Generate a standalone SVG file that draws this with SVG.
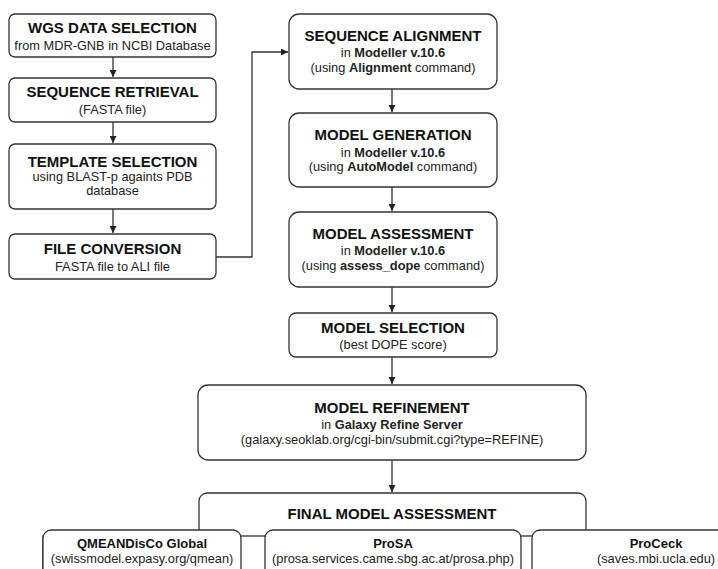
<svg xmlns="http://www.w3.org/2000/svg" width="718" height="569" viewBox="0 0 718 569">
<defs>
<marker id="ah" viewBox="0 0 10 10" refX="10" refY="5" markerWidth="7" markerHeight="7" markerUnits="userSpaceOnUse" orient="auto">
<path d="M0,0 L10,5 L0,10 z" fill="#222"/>
</marker>
<style>
.box{fill:#fff;stroke:#333;stroke-width:1.3}
.t{font-family:"Liberation Sans",Arial,sans-serif;font-weight:bold;font-size:15px;fill:#111;text-anchor:middle}
.s{font-family:"Liberation Sans",Arial,sans-serif;font-size:12.8px;fill:#222;text-anchor:middle}
.b{font-weight:bold}
.c{fill:none;stroke:#333;stroke-width:1.3}
</style>
</defs>
<rect width="718" height="569" fill="#fff"/>
<g id="connectors">
<path class="c" d="M113,57 V77" marker-end="url(#ah)"/>
<path class="c" d="M113,122 V143" marker-end="url(#ah)"/>
<path class="c" d="M113,209 V233" marker-end="url(#ah)"/>
<path class="c" d="M216,257 H252 V52 H288" marker-end="url(#ah)"/>
<path class="c" d="M392,89 V112" marker-end="url(#ah)"/>
<path class="c" d="M392,187 V211" marker-end="url(#ah)"/>
<path class="c" d="M392,287 V312" marker-end="url(#ah)"/>
<path class="c" d="M392,357 V384" marker-end="url(#ah)"/>
<path class="c" d="M392,460 V492" marker-end="url(#ah)"/>
</g>
<g id="n1">
<rect class="box" x="9" y="14" width="207" height="43" rx="6"/>
<text class="t" x="112.5" y="33">WGS DATA SELECTION</text>
<text class="s" x="112.5" y="50">from MDR-GNB in NCBI Database</text>
</g>
<g id="n2">
<rect class="box" x="9" y="78" width="207" height="44" rx="6"/>
<text class="t" x="112.5" y="97">SEQUENCE RETRIEVAL</text>
<text class="s" x="112.5" y="114">(FASTA file)</text>
</g>
<g id="n3">
<rect class="box" x="9" y="144" width="207" height="65" rx="6"/>
<text class="t" x="112.5" y="167">TEMPLATE SELECTION</text>
<text class="s" x="112.5" y="181">using BLAST-p againts PDB</text>
<text class="s" x="112.5" y="195">database</text>
</g>
<g id="n4">
<rect class="box" x="9" y="234" width="207" height="45" rx="6"/>
<text class="t" x="112.5" y="254">FILE CONVERSION</text>
<text class="s" x="112.5" y="271">FASTA file to ALI file</text>
</g>
<g id="n5">
<rect class="box" x="289" y="14" width="208" height="75" rx="10"/>
<text class="t" x="393" y="41">SEQUENCE ALIGNMENT</text>
<text class="s" x="393" y="57">in <tspan class="b">Modeller v.10.6</tspan></text>
<text class="s" x="393" y="72">(using <tspan class="b">Alignment</tspan> command)</text>
</g>
<g id="n6">
<rect class="box" x="289" y="113" width="208" height="74" rx="10"/>
<text class="t" x="393" y="140">MODEL GENERATION</text>
<text class="s" x="393" y="157">in <tspan class="b">Modeller v.10.6</tspan></text>
<text class="s" x="393" y="171">(using <tspan class="b">AutoModel</tspan> command)</text>
</g>
<g id="n7">
<rect class="box" x="289" y="212" width="208" height="75" rx="10"/>
<text class="t" x="393" y="239">MODEL ASSESSMENT</text>
<text class="s" x="393" y="255">in <tspan class="b">Modeller v.10.6</tspan></text>
<text class="s" x="393" y="270">(using <tspan class="b">assess_dope</tspan> command)</text>
</g>
<g id="n8">
<rect class="box" x="289" y="313" width="208" height="44" rx="7"/>
<text class="t" x="393" y="333">MODEL SELECTION</text>
<text class="s" x="393" y="349">(best DOPE score)</text>
</g>
<g id="n9">
<rect class="box" x="198" y="385" width="388" height="75" rx="10"/>
<text class="t" x="392" y="413">MODEL REFINEMENT</text>
<text class="s" x="392" y="429">in <tspan class="b">Galaxy Refine Server</tspan></text>
<text class="s" x="392" y="444">(galaxy.seoklab.org/cgi-bin/submit.cgi?type=REFINE)</text>
</g>
<g id="n10">
<rect class="box" x="199" y="493" width="387" height="100" rx="8"/>
<rect class="box" x="43" y="536" width="760" height="60"/>
<text class="t" x="392" y="519">FINAL MODEL ASSESSMENT</text>
</g>
<g id="n11">
<rect class="box" x="43" y="530" width="198" height="60" rx="8"/>
<text class="t" x="142" y="548" style="font-size:13px">QMEANDisCo Global</text>
<text class="s" x="142" y="563">(swissmodel.expasy.org/qmean)</text>
</g>
<g id="n12">
<rect class="box" x="265" y="530" width="256" height="60" rx="8"/>
<text class="t" x="393" y="548" style="font-size:13px">ProSA</text>
<text class="s" x="393" y="563">(prosa.services.came.sbg.ac.at/prosa.php)</text>
</g>
<g id="n13">
<rect class="box" x="532" y="530" width="250" height="60" rx="8"/>
<text class="t" x="656" y="548" style="font-size:13px">ProCeck</text>
<text class="s" x="656" y="563">(saves.mbi.ucla.edu)</text>
</g>
</svg>
